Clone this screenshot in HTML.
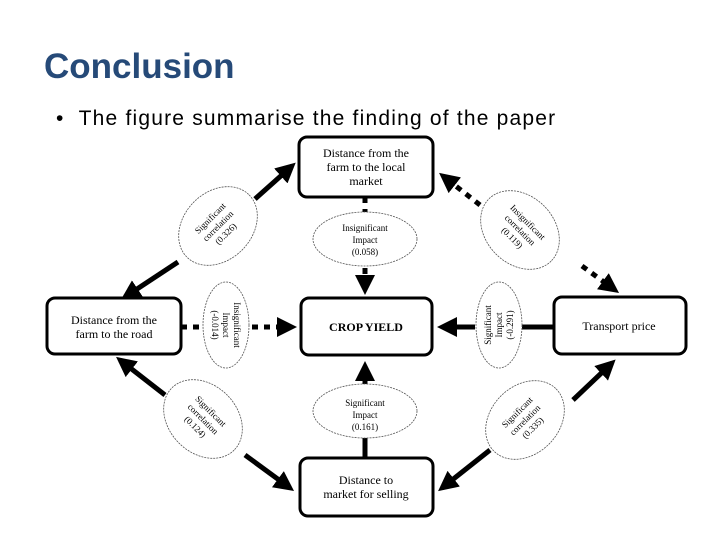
<!DOCTYPE html>
<html><head><meta charset="utf-8"><style>
body{margin:0;width:720px;height:540px;background:#fff;overflow:hidden;position:relative;font-family:"Liberation Sans",sans-serif}
.t{position:absolute;left:44px;top:47px;font-size:35px;font-weight:bold;color:#264a78}
.b{position:absolute;left:56px;top:107px;font-size:21px;letter-spacing:1.2px;color:#000}
svg{position:absolute;left:0;top:0}
svg text{font-family:"Liberation Serif",serif;fill:#000}
</style></head><body>
<div class="t">Conclusion</div>
<div class="b">•&nbsp;&nbsp;The figure summarise the finding of the paper</div>
<svg width="720" height="540">
<defs>
<marker id="a" markerWidth="4" markerHeight="4" refX="3" refY="2" orient="auto"><path d="M0,0L4,2L0,4z" fill="#000"/></marker>
</defs>
<g stroke="#000" stroke-width="5" fill="none">
<line x1="255" y1="199" x2="292" y2="166" marker-end="url(#a)"/>
<line x1="178" y1="262" x2="125" y2="297" marker-end="url(#a)"/>
<line x1="165" y1="395" x2="120" y2="360" marker-end="url(#a)"/>
<line x1="245" y1="455" x2="290" y2="488" marker-end="url(#a)"/>
<line x1="490" y1="450" x2="442" y2="488" marker-end="url(#a)"/>
<line x1="573" y1="400" x2="612" y2="363" marker-end="url(#a)"/>
<line x1="365" y1="438" x2="365" y2="457"/>
<line x1="365" y1="385" x2="365" y2="366" marker-end="url(#a)"/>
<line x1="553" y1="327" x2="522" y2="327"/>
<line x1="475" y1="327" x2="442" y2="327" marker-end="url(#a)"/>
<g stroke-dasharray="6 6">
<line x1="365" y1="197" x2="365" y2="212"/>
<line x1="365" y1="268" x2="365" y2="290" marker-end="url(#a)"/>
<line x1="181" y1="327" x2="203" y2="327"/>
<line x1="252" y1="327" x2="292" y2="327" marker-end="url(#a)"/>
<line x1="480" y1="205" x2="443" y2="176" marker-end="url(#a)"/>
<line x1="582" y1="266" x2="615" y2="290" marker-end="url(#a)"/>
</g>
</g>
<g stroke="#000" stroke-width="3" fill="#fff">
<rect x="299" y="137" width="134" height="60" rx="8"/>
<rect x="47" y="298" width="134" height="56" rx="8"/>
<rect x="301" y="298" width="131" height="57" rx="8"/>
<rect x="554" y="297" width="132" height="57" rx="8"/>
<rect x="300" y="458" width="133" height="58" rx="8"/>
</g>
<g stroke="#555" stroke-width="0.8" stroke-dasharray="2 1" fill="#fff">
<ellipse cx="218" cy="226" rx="44" ry="34" transform="rotate(-45 218 226)"/>
<ellipse cx="365" cy="239" rx="52" ry="27"/>
<ellipse cx="520" cy="230" rx="44" ry="34" transform="rotate(45 520 230)"/>
<ellipse cx="226" cy="325" rx="23" ry="43"/>
<ellipse cx="499" cy="325" rx="23" ry="43"/>
<ellipse cx="365" cy="411" rx="52" ry="27"/>
<ellipse cx="203" cy="419" rx="44" ry="34" transform="rotate(45 203 419)"/>
<ellipse cx="525" cy="420" rx="44" ry="34" transform="rotate(-45 525 420)"/>
</g>
<g font-size="12" text-anchor="middle">
<text x="366" y="157">Distance from the</text>
<text x="366" y="171">farm to the local</text>
<text x="366" y="185">market</text>
<text x="114" y="324">Distance from the</text>
<text x="114" y="338">farm to the road</text>
<text x="366" y="331" font-weight="bold">CROP YIELD</text>
<text x="619" y="330">Transport price</text>
<text x="366" y="484">Distance to</text>
<text x="366" y="498">market for selling</text>
</g>
<g font-size="9" text-anchor="middle">
<text x="365" y="231">Insignificant</text><text x="365" y="243">Impact</text><text x="365" y="255">(0.058)</text>
<text x="365" y="406">Significant</text><text x="365" y="418">Impact</text><text x="365" y="430">(0.161)</text>
<g transform="translate(218 226) rotate(-45)"><text y="-8">Significant</text><text y="3">correlation</text><text y="14">(0.326)</text></g>
<g transform="translate(520 230) rotate(45)"><text y="-8">Insignificant</text><text y="3">correlation</text><text y="14">(0.119)</text></g>
<g transform="translate(203 419) rotate(45)"><text y="-8">Significant</text><text y="3">correlation</text><text y="14">(0.124)</text></g>
<g transform="translate(525 420) rotate(-45)"><text y="-8">Significant</text><text y="3">correlation</text><text y="14">(0.335)</text></g>
<g transform="translate(226 325) rotate(90)"><text y="-8">Insignificant</text><text y="3">Impact</text><text y="14">(-0.014)</text></g>
<g transform="translate(499 325) rotate(-90)"><text y="-8">Significant</text><text y="3">Impact</text><text y="14">(-0.291)</text></g>
</g>
</svg>
</body></html>
